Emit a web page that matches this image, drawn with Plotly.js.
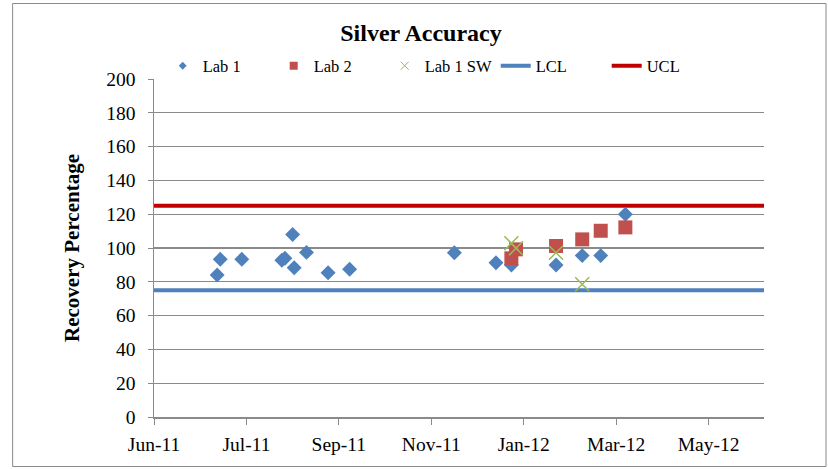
<!DOCTYPE html>
<html>
<head>
<meta charset="utf-8">
<script src="https://cdn.plot.ly/plotly-3.0.1.min.js"></script>
<style>
  html, body { margin: 0; padding: 0; background: #fff; }
  #chart { width: 828px; height: 469px; }
</style>
</head>
<body>
<div id="chart"></div>
<script>
// ---- data ----
const lab1Dates = ['2011-07-12','2011-07-14','2011-07-28','2011-08-23','2011-08-25','2011-08-30','2011-08-31','2011-09-08','2011-09-22','2011-10-06','2011-12-13','2012-01-09','2012-01-19','2012-02-17','2012-03-05','2012-03-17','2012-04-02'];
const lab1Values = [84, 93.3, 93.3, 92.8, 93.9, 108, 88.3, 97.4, 85.4, 87.4, 97.2, 91.3, 90, 90, 95.5, 95.5, 120];

const lab2Dates = ['2012-01-19','2012-01-22','2012-02-17','2012-03-05','2012-03-17','2012-04-02'];
const lab2Values = [93.9, 99.2, 101.2, 105.1, 110.2, 112.2];

const lab1swDates = ['2012-01-19','2012-01-22','2012-02-17','2012-03-05'];
const lab1swValues = [102.8, 99.8, 97.2, 78.5];

const limitDates = ['2011-06-01','2012-07-01'];
const lclValues = [75, 75];
const uclValues = [125, 125];

const xTickDates = ['2011-06-01','2011-07-31','2011-09-29','2011-11-28','2012-01-27','2012-03-27','2012-05-26'];
const xTickLabels = ['Jun-11','Jul-11','Sep-11','Nov-11','Jan-12','Mar-12','May-12'];

const FONT = '"Liberation Serif", "Times New Roman", serif';
const GRID = '#8a8a8a';

const traces = [
  // legend-only entries (small markers like the reference legend)
  {x:[null], y:[null], type:'scatter', mode:'markers', name:'Lab 1',
   marker:{symbol:'diamond', size:6, color:'#4F81BD'}},
  {x:[null], y:[null], type:'scatter', mode:'markers', name:'Lab 2',
   marker:{symbol:'square', size:8, color:'#C0504D'}},
  {x:[null], y:[null], type:'scatter', mode:'markers', name:'Lab 1 SW',
   marker:{symbol:'x-thin', size:8, line:{color:'#9BBB59', width:1}}},
  {x: limitDates, y: lclValues, type:'scatter', mode:'lines', name:'LCL',
   line:{color:'#4F81BD', width:4}},
  {x: limitDates, y: uclValues, type:'scatter', mode:'lines', name:'UCL',
   line:{color:'#C00000', width:4}},
  // actual data
  {x: lab1Dates, y: lab1Values, type:'scatter', mode:'markers', name:'Lab 1', showlegend:false,
   marker:{symbol:'diamond', size:11.5, color:'#4F81BD'}},
  {x: lab2Dates, y: lab2Values, type:'scatter', mode:'markers', name:'Lab 2', showlegend:false,
   marker:{symbol:'square', size:14, color:'#C0504D'}},
  {x: lab1swDates, y: lab1swValues, type:'scatter', mode:'markers', name:'Lab 1 SW', showlegend:false,
   marker:{symbol:'x-thin', size:14, line:{color:'#9BBB59', width:1.5}}}
];

const L = 154.3, R = 764, T = 79, B = 417;
const W = R - L, H = B - T;
const px = v => (v - L) / W;
const py = v => (B - v) / H;

const layout = {
  width: 828, height: 469,
  margin: {l: L, r: 828 - R, t: T, b: 469 - B, pad: 0},
  paper_bgcolor: '#ffffff', plot_bgcolor: '#ffffff',
  font: {family: FONT, color: '#000000', size: 19},
  title: {text: '<b>Silver Accuracy</b>', font: {family: FONT, size: 24, color: '#000'},
          x: 421/828, xanchor: 'center', y: 1 - 33/469, yanchor: 'middle'},
  showlegend: true,
  legend: {orientation: 'h', x: px(163), xanchor: 'left', y: py(66), yanchor: 'middle',
           font: {family: FONT, size: 16.5, color: '#000'}, bgcolor: 'rgba(0,0,0,0)',
           traceorder: 'normal', itemwidth: 30, tracegroupgap: 0, entrywidth: 66},
  xaxis: {
    type: 'date', range: ['2011-06-01', '2012-07-01'],
    tickmode: 'array', tickvals: xTickDates, ticktext: xTickLabels,
    showgrid: false, zeroline: false,
    showline: true, linecolor: GRID, linewidth: 1.5,
    ticks: 'outside', ticklen: 6, tickcolor: GRID, tickwidth: 1,
    tickfont: {family: FONT, size: 19.5, color: '#000'},
    ticklabelstandoff: 3, fixedrange: true
  },
  yaxis: {
    range: [0, 200], tickmode: 'linear', tick0: 0, dtick: 20,
    showgrid: true, gridcolor: GRID, gridwidth: 1.2,
    zeroline: false, showline: true, linecolor: GRID, linewidth: 1.5,
    ticks: 'outside', ticklen: 5, tickcolor: GRID, tickwidth: 1,
    tickfont: {family: FONT, size: 19.5, color: '#000'},
    ticklabelstandoff: 8,
    title: {text: '<b>Recovery Percentage</b>', font: {family: FONT, size: 21, color: '#000'}, standoff: 21},
    fixedrange: true
  },
  shapes: [{
    type: 'rect', xref: 'paper', yref: 'paper',
    x0: px(13), x1: px(826), y0: py(466.5), y1: py(3.5),
    line: {color: '#8a8a8a', width: 1}, fillcolor: 'rgba(0,0,0,0)', layer: 'below'
  }]
};

Plotly.newPlot('chart', traces, layout, {displayModeBar: false, staticPlot: true});
</script>
</body>
</html>
